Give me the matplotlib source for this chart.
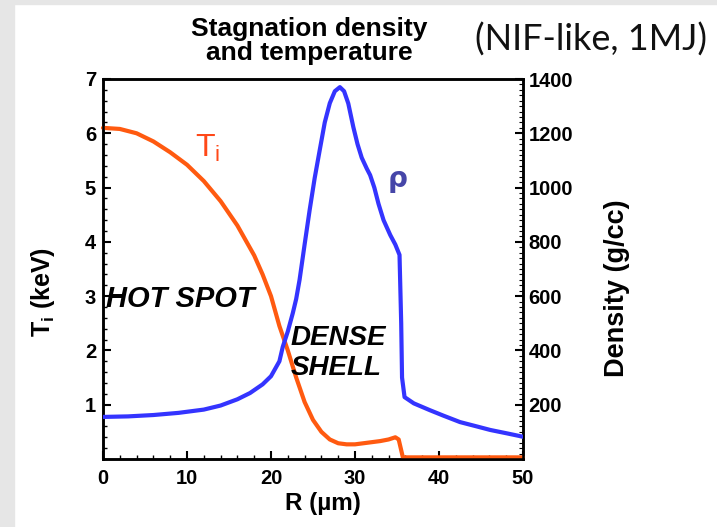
import matplotlib
matplotlib.use("Agg")
import matplotlib.pyplot as plt
from matplotlib.patches import Rectangle
from matplotlib.ticker import MultipleLocator

# Ion temperature profile (keV) vs radius (um)
r_t = [0, 2, 4, 6, 8, 10, 12, 14, 16, 18, 19, 20, 21, 22, 23, 24, 25, 26, 27,
       28, 29, 30, 31, 32, 33, 34, 34.8, 35.2, 35.7, 40, 45, 50]
t_i = [6.10, 6.08, 6.00, 5.85, 5.65, 5.42, 5.12, 4.75, 4.30, 3.75, 3.40, 3.00,
       2.45, 2.00, 1.50, 1.05, 0.72, 0.50, 0.36, 0.29, 0.27, 0.27, 0.29, 0.31,
       0.33, 0.36, 0.40, 0.36, 0.03, 0.03, 0.03, 0.03]

# Density profile (g/cc) vs radius (um)
r_rho = [0, 3, 6, 9, 12, 14, 16, 17.5, 19, 20, 21, 21.4, 22, 22.6, 23.0, 23.4,
         24.0, 24.6, 25.2, 25.8, 26.4, 27.0, 27.6, 28.2, 28.7, 29.2, 29.8, 30.3,
         30.8, 31.4, 31.8, 32.3, 32.8, 33.4, 34.2, 34.8, 35.3, 35.5, 35.6, 35.9,
         37, 38.9, 40.5, 42.5, 44.5, 46.1, 48, 50]
rho = [155, 157, 162, 170, 182, 197, 220, 243, 275, 305, 360, 413, 470, 538, 590,
       660, 790, 917, 1035, 1138, 1240, 1311, 1355, 1370, 1355, 1310, 1223, 1160,
       1110, 1070, 1046, 1000, 940, 880, 825, 790, 752, 500, 300, 228,
       205, 180, 160, 136, 120, 107, 95, 82]

x_ticks = [0, 10, 20, 30, 40, 50]
t_ticks = [1, 2, 3, 4, 5, 6, 7]
rho_ticks = [200, 400, 600, 800, 1000, 1200, 1400]

W, H = 717, 527
fig = plt.figure(figsize=(W / 100, H / 100), dpi=100)
fig.patch.set_facecolor("white")
gray = "#e6e6e6"
fig.patches.append(Rectangle((0, 0), 14 / W, 1, transform=fig.transFigure, color=gray, zorder=-10))
fig.patches.append(Rectangle((0, 1 - 4 / H), 1, 4 / H, transform=fig.transFigure, color=gray, zorder=-10))

ax = fig.add_axes([103 / W, (H - 459) / H, 420 / W, 380 / H])
ax2 = ax.twinx()

orange = "#ff5a10"
blue = "#3434ff"

ax.plot(r_t, t_i, color=orange, lw=3, solid_joinstyle="round", solid_capstyle="round",
        zorder=3, clip_on=False)
ax2.plot(r_rho, rho, color=blue, lw=3, solid_joinstyle="round", zorder=3)

ax.set_xlim(0, 50)
ax.set_ylim(0, 7)
ax2.set_ylim(0, 1400)

bold = dict(family="Liberation Sans", weight="bold")
tfs = 14.5
ax.set_xticks(x_ticks)
ax.set_xticklabels([str(v) for v in x_ticks], fontsize=tfs, **bold)
ax.set_yticks(t_ticks)
ax.set_yticklabels([str(v) for v in t_ticks], fontsize=tfs, **bold)
ax2.set_yticks(rho_ticks)
ax2.set_yticklabels([str(v) for v in rho_ticks], fontsize=tfs, **bold)
ax.xaxis.set_minor_locator(MultipleLocator(2))
ax.yaxis.set_minor_locator(MultipleLocator(0.2))
ax2.yaxis.set_minor_locator(MultipleLocator(20))

ax.tick_params(axis="both", which="major", direction="in", length=6, width=1.5, colors="black", pad=5)
ax.tick_params(axis="x", which="major", pad=7)
ax.tick_params(axis="both", which="minor", direction="in", length=3, width=1)
ax.tick_params(axis="x", which="both", top=False)
ax2.tick_params(axis="y", which="major", direction="in", length=6, width=1.5, pad=4)
ax2.tick_params(axis="y", which="minor", direction="in", length=3, width=0.8)

for a in (ax, ax2):
    for s in a.spines.values():
        s.set_linewidth(1.8)

ax.set_xlabel("R (\u00b5m)", fontsize=17.5, **bold)
ax.xaxis.set_label_coords(0.524, -0.088)
ax.set_ylabel("T$_\\mathregular{i}$ (keV)", fontsize=18, va="center", **bold)
ax.yaxis.set_label_coords(-0.143, 0.44)
ax2.set_ylabel("Density (g/cc)", fontsize=19.5, va="center", rotation=90, **bold)
ax2.yaxis.set_label_coords(1.224, 0.45)

# Curve labels
ax.text(11.0, 5.72, "T$_\\mathregular{i}$", color="#ff4818", fontsize=23,
        family="Liberation Sans", ha="left", va="center")
ax.text(33.9, 5.15, "\u03c1", color="#4646a8", fontsize=20, family="DejaVu Sans",
        weight="bold", ha="left", va="center")

# Region annotations
ax.text(0.4, 2.95, "HOT SPOT", fontsize=21, style="italic", ha="left", va="center", **bold)
ax.text(22.3, 1.95, "DENSE\nSHELL", fontsize=20, style="italic", ha="left", va="center",
        linespacing=1.2, **bold)

# Titles
fig.text(309 / W, 1 - 41 / H, "Stagnation density\nand temperature", fontsize=19,
         ha="center", va="center", linespacing=1.05, **bold)
fig.text(591 / W, 1 - 40 / H, "(NIF-like, 1MJ)", fontsize=26, family="Lato",
         ha="center", va="center", color="#111111")

fig.savefig("out.png", dpi=100)
